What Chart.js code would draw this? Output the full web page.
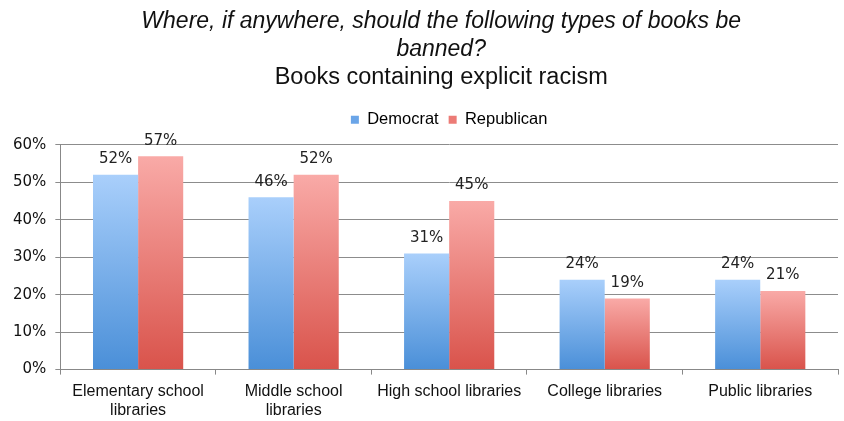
<!DOCTYPE html>
<html>
<head>
<meta charset="utf-8">
<script src="https://cdn.jsdelivr.net/npm/chart.js@4/dist/chart.umd.min.js"></script>
<style>
html,body{margin:0;padding:0;background:#fff;}
#wrap{width:844px;height:421px;position:relative;}
</style>
</head>
<body>
<div id="wrap"><canvas id="c" width="844" height="421"></canvas></div>
<script>
const categories = [["Elementary school","libraries"],["Middle school","libraries"],"High school libraries","College libraries","Public libraries"];
const democrat = [52, 46, 31, 24, 24];
const republican = [57, 52, 45, 19, 21];
const yTicks = [0, 10, 20, 30, 40, 50, 60];

function grad(ctx, top, bottom, cTop, cBot){
  const g = ctx.createLinearGradient(0, top, 0, bottom);
  g.addColorStop(0, cTop);
  g.addColorStop(1, cBot);
  return g;
}
function barFill(cTop, cBot){
  return function(context){
    const chart = context.chart;
    if(!chart.chartArea) return cBot;
    const ys = chart.scales.y;
    const v = context.raw;
    if(v === undefined) return cBot;
    return grad(chart.ctx, ys.getPixelForValue(v), ys.getPixelForValue(0), cTop, cBot);
  };
}

const labelPlugin = {
  id:'valueLabels',
  afterDatasetsDraw(chart){
    const ctx = chart.ctx;
    ctx.save();
    ctx.font = '15px "DejaVu Sans"';
    ctx.fillStyle = '#222';
    ctx.textAlign = 'center';
    ctx.textBaseline = 'bottom';
    chart.data.datasets.forEach((ds, i) => {
      chart.getDatasetMeta(i).data.forEach((bar, j) => {
        ctx.fillText(ds.data[j] + '%', bar.x, bar.y - 8);
      });
    });
    ctx.restore();
  }
};

const legendGap = {
  id:'legendGap',
  beforeInit(chart){
    const orig = chart.legend.fit;
    chart.legend.fit = function(){ orig.call(this); this.height += 7; };
  },
  afterLayout(chart){
    chart.boxes.forEach(b => {
      if (b !== chart.legend && b.options && b.options.text !== undefined && b.position === 'top') {
        b.left -= 8; b.right -= 8;
      }
    });
  }
};

const FONT = '"Liberation Sans", Arial, sans-serif';

new Chart(document.getElementById('c'), {
  type:'bar',
  data:{
    labels: categories,
    datasets:[
      {label:'Democrat', data: democrat, backgroundColor: barFill('#a9cffb','#4a8fd8'), legendColor:'#6aa5e8'},
      {label:'Republican', data: republican, backgroundColor: barFill('#f9aaa7','#d9534b'), legendColor:'#ec7b76'}
    ]
  },
  options:{
    responsive:false,
    animation:false,
    devicePixelRatio:1,
    layout:{padding:{left:4,right:6,top:4,bottom:-6}},
    datasets:{bar:{categoryPercentage:0.58, barPercentage:1.0}},
    plugins:{
      title:{
        display:true,
        fullSize:false,
        text:['Where, if anywhere, should the following types of books be','banned?'],
        font:{family:FONT, size:23, style:'italic', weight:'normal', lineHeight:1.2},
        color:'#111',
        padding:{top:4,bottom:0}
      },
      subtitle:{
        display:true,
        fullSize:false,
        text:'Books containing explicit racism',
        font:{family:FONT, size:23.5, weight:'normal', lineHeight:1.2},
        color:'#111',
        padding:{top:0,bottom:10}
      },
      legend:{
        display:true,
        fullSize:false,
        position:'top',
        labels:{
          boxWidth:8, boxHeight:8,
          color:'#111',
          font:{family:FONT, size:16.5},
          padding:10,
          generateLabels(chart){
            return chart.data.datasets.map((ds,i)=>({
              text: ds.label, fillStyle: ds.legendColor, strokeStyle: ds.legendColor, lineWidth:0, datasetIndex:i, hidden:false
            }));
          }
        }
      },
      tooltip:{enabled:false}
    },
    scales:{
      x:{
        grid:{display:true, drawOnChartArea:false, drawTicks:true, tickLength:5, color:'#888', offset:true},
        border:{display:true, color:'#888'},
        ticks:{color:'#111', font:{family:FONT, size:16}, maxRotation:0, autoSkip:false, padding:7}
      },
      y:{
        min:0, max:60,
        afterBuildTicks(scale){ scale.ticks = yTicks.map(v=>({value:v})); },
        grid:{color:'#8c8c8c', tickLength:5, drawTicks:true},
        border:{display:true, color:'#888'},
        ticks:{color:'#111', font:{family:'"DejaVu Sans"', size:15}, padding:9, callback:v=>v+'%'}
      }
    }
  },
  plugins:[labelPlugin, legendGap]
});
</script>
</body>
</html>
